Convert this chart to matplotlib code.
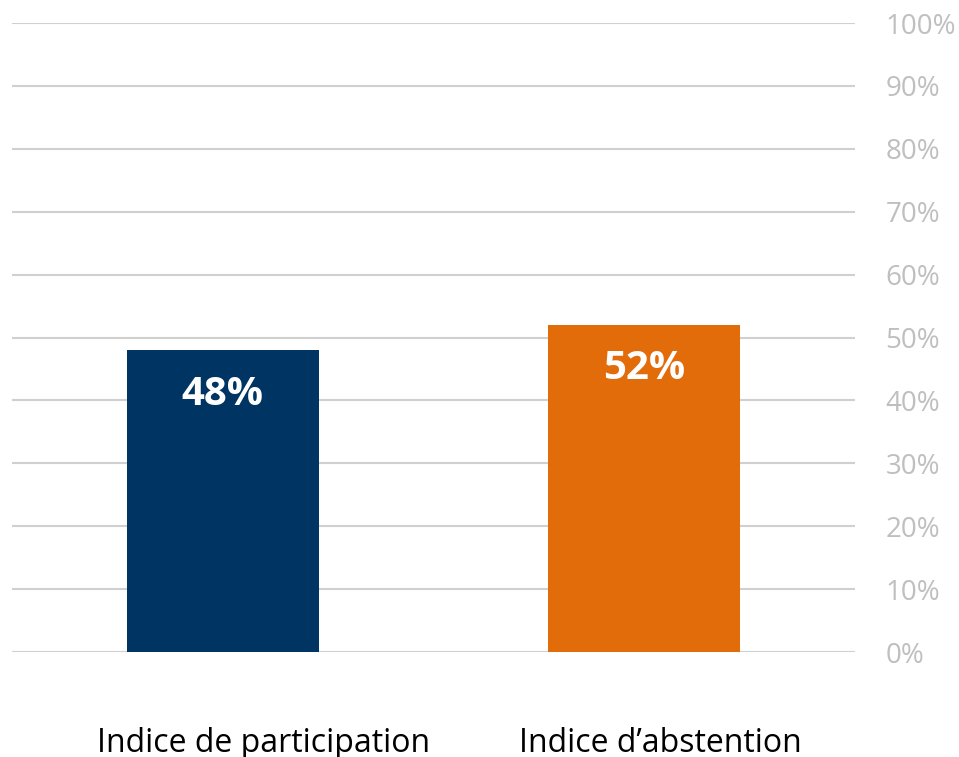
import matplotlib
matplotlib.use("Agg")
import matplotlib.pyplot as plt
import matplotlib.transforms as mtransforms
from matplotlib.ticker import PercentFormatter

plt.rcParams['font.family'] = ['Open Sans', 'DejaVu Sans']

# data
categories = ["Indice de participation", "Indice d\u2019abstention"]
values = [48, 52]
colors = ["#003462", "#E36C0A"]
yticks = list(range(0, 101, 10))

fig = plt.figure(figsize=(9.59, 7.57), dpi=100)
ax = fig.add_axes([0.0125, 0.1387, 0.8791, 0.8309])

x = range(len(categories))
bars = ax.bar(x, values, width=0.455, color=colors, zorder=3)

# value labels inside bars
for b, v in zip(bars, values):
    ax.text(b.get_x() + b.get_width() / 2, v - 7, f"{v}%",
            ha="center", va="center", color="white",
            fontsize=29, fontweight="bold", zorder=4)

ax.set_xlim(-0.5, 1.5)
ax.set_ylim(0, 100)
ax.set_yticks(yticks)
ax.yaxis.set_major_formatter(PercentFormatter(decimals=0))
ax.yaxis.tick_right()
ax.tick_params(axis="y", length=0, pad=22, labelsize=20, labelcolor="#bfbfbf")
ax.set_xticks(list(x))
ax.set_xticklabels(categories)
ax.tick_params(axis="x", length=0, pad=54, labelsize=23, labelcolor="black")

# category labels sit a bit right of the bar centres in the original
for lbl, dx in zip(ax.get_xticklabels(), [0.41, 0.16]):
    lbl.set_transform(lbl.get_transform() +
                      mtransforms.ScaledTranslation(dx, 0, fig.dpi_scale_trans))

ax.grid(axis="y", color="#d0d0d0", linewidth=1.5, zorder=0)
ax.set_axisbelow(True)
for s in ax.spines.values():
    s.set_visible(False)

fig.savefig("out.png", dpi=100)
